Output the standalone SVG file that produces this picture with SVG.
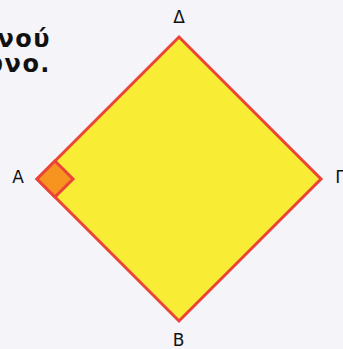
<svg xmlns="http://www.w3.org/2000/svg" width="343" height="349" viewBox="0 0 343 349">
<style>
.lbl{font-family:"DejaVu Sans","Liberation Sans",sans-serif;font-size:17px;fill:#111;text-anchor:middle}
.title{font-family:"DejaVu Sans","Liberation Sans",sans-serif;font-size:24px;font-weight:bold;fill:#111;text-anchor:end;letter-spacing:1.5px}
</style>
<rect width="343" height="349" fill="#f5f4f9"/>
<g id="title">
<text class="title" x="51" y="47">νού</text>
<text class="title" x="51" y="72">υνο.</text>
</g>
<g id="square">
<polygon points="37,179 179,37 321,179 179,321" fill="#f8ec35" stroke="#ec4338" stroke-width="3" stroke-linejoin="miter"/>
</g>
<g id="right-angle">
<polygon points="37,179 55,161 73,179 55,197" fill="#f7941f" stroke="#ec4338" stroke-width="3"/>
</g>
<g id="labels">
<text class="lbl" x="18" y="183">A</text>
<text class="lbl" x="179" y="23">Δ</text>
<text class="lbl" x="340" y="183">Γ</text>
<text class="lbl" x="178.5" y="346">B</text>
</g>
</svg>
